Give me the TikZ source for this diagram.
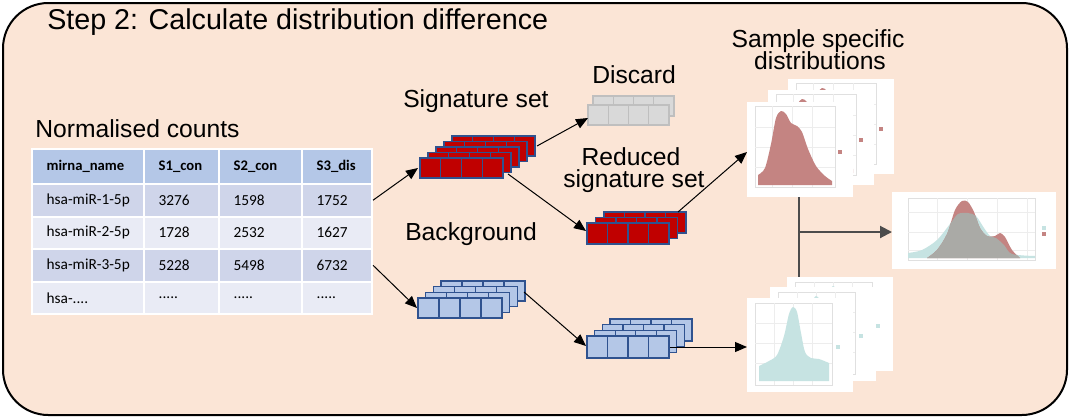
\documentclass[tikz,border=0pt]{standalone}
\usepackage{fontspec}
\setmainfont{Liberation Sans}
\newfontfamily\carlito{Carlito}
\usetikzlibrary{arrows.meta}
\definecolor{framefill}{RGB}{251, 229, 214}
\definecolor{headblue}{RGB}{180, 199, 231}
\definecolor{rowdark}{RGB}{207, 213, 234}
\definecolor{rowlight}{RGB}{233, 235, 245}
\definecolor{sigred}{RGB}{192, 0, 0}
\definecolor{cellblue}{RGB}{47, 82, 143}
\definecolor{bgblue}{RGB}{180, 199, 231}
\definecolor{discgray}{RGB}{217, 217, 217}
\definecolor{discedge}{RGB}{191, 191, 191}
\definecolor{densred}{RGB}{196, 132, 130}
\definecolor{densteal}{RGB}{198, 227, 226}
\definecolor{densmix}{RGB}{170, 170, 166}

\begin{document}
\begin{tikzpicture}[x=0.75pt, y=-0.75pt, every node/.style={inner sep=0pt},
    steplabel/.style={font=\fontsize{18.5}{20}\selectfont},
    upperline/.style={steplabel, text depth=0.5pt},
    lowerline/.style={steplabel, text height=10pt},
    tabcell/.style={draw=white, line width=1.5pt, anchor=north west, inner xsep=11pt,
      align=left, minimum height=24.375pt,
      execute at begin node={\exhyphenpenalty=10000\relax},
      font=\carlito\fontsize{11.5}{13}\selectfont},
    headcell/.style={tabcell, fill=headblue, minimum height=26.25pt,
      font=\carlito\bfseries\fontsize{11}{13}\selectfont},
    c1/.style={minimum width=84pt, text width=62pt},
    c2/.style={minimum width=56.25pt, text width=34.25pt},
    c3/.style={minimum width=62.25pt, text width=40.25pt},
    c4/.style={minimum width=52.5pt, text width=30.5pt},
    flow/.style={-{Triangle[length=9pt, width=7.5pt]}, line width=0.75pt},
    merge/.style={draw=black!70, line width=1.5pt},
    sigcell/.style={fill=sigred, draw=cellblue, line width=1pt},
    bgcell/.style={fill=bgblue, draw=cellblue, line width=1pt},
    disccell/.style={fill=discgray, draw=discedge, line width=1pt},
    panelbox/.style={draw=black!12, line width=0.4pt},
    gridline/.style={draw=black!7, line width=0.3pt}]
  \useasboundingbox (0,0) rectangle (1070,418);

  % frame and headings
  \filldraw[fill=framefill, draw=black, line width=1.5pt, rounded corners=34pt]
    (3,3) rectangle (1067,415);
  \node[anchor=base west, font=\fontsize{21.5}{24}\selectfont] (title) at (47,29)
    {Step 2: Calculate distribution difference};
  \node[steplabel, anchor=base west] (countslbl) at (35,137) {Normalised counts};
  \node[steplabel, anchor=base west] (siglbl) at (403,107) {Signature set};
  \node[steplabel, anchor=base west] (disclbl) at (592,83) {Discard};
  \node[upperline, anchor=base] (redlbl1) at (631,165) {Reduced};
  \node[lowerline, anchor=base] (redlbl2) at (634,187) {signature set};
  \node[steplabel, anchor=base west] (bglbl) at (405,240) {Background};
  \node[upperline, anchor=base] (samplbl1) at (818,47) {Sample specific};
  \node[lowerline, anchor=base] (samplbl2) at (820,69) {distributions};

  % table of counts
  \node[headcell, c1] (h1) at (31,148) {mirna\_name};
  \node[headcell, c2] (h2) at (143,148) {S1\_con};
  \node[headcell, c3] (h3) at (218,148) {S2\_con};
  \node[headcell, c4] (h4) at (301,148) {S3\_dis};
  \node[tabcell, c1, fill=rowdark] (r1c1) at (31,183) {hsa-miR-1-5p};
  \node[tabcell, c2, fill=rowdark] (r1c2) at (143,183) {3276};
  \node[tabcell, c3, fill=rowdark] (r1c3) at (218,183) {1598};
  \node[tabcell, c4, fill=rowdark] (r1c4) at (301,183) {1752};
  \node[tabcell, c1, fill=rowlight] (r2c1) at (31,215.5) {hsa-miR-2-5p};
  \node[tabcell, c2, fill=rowlight] (r2c2) at (143,215.5) {1728};
  \node[tabcell, c3, fill=rowlight] (r2c3) at (218,215.5) {2532};
  \node[tabcell, c4, fill=rowlight] (r2c4) at (301,215.5) {1627};
  \node[tabcell, c1, fill=rowdark] (r3c1) at (31,248) {hsa-miR-3-5p};
  \node[tabcell, c2, fill=rowdark] (r3c2) at (143,248) {5228};
  \node[tabcell, c3, fill=rowdark] (r3c3) at (218,248) {5498};
  \node[tabcell, c4, fill=rowdark] (r3c4) at (301,248) {6732};
  \node[tabcell, c1, fill=rowlight] (r4c1) at (31,280.5) {hsa-....};
  \node[tabcell, c2, fill=rowlight] (r4c2) at (143,280.5) {.....};
  \node[tabcell, c3, fill=rowlight] (r4c3) at (218,280.5) {.....};
  \node[tabcell, c4, fill=rowlight] (r4c4) at (301,280.5) {.....};

  % signature set stack
  \begin{scope}[shift={(420,158)}]
    \foreach \k in {4,3,2,1,0}
      \foreach \i in {0,1,2,3}
        \filldraw[sigcell] (\k*8+\i*20.75,-\k*5.5) rectangle +(20.75,20);
  \end{scope}
  % discard stack
  \begin{scope}[shift={(588,105)}]
    \foreach \k in {1,0}
      \foreach \i in {0,1,2,3}
        \filldraw[disccell] (\k*5+\i*20.25,-\k*9) rectangle +(20.25,20);
  \end{scope}
  % reduced signature set stack
  \begin{scope}[shift={(587,223)}]
    \foreach \k in {2,1,0}
      \foreach \i in {0,1,2,3}
        \filldraw[sigcell] (\k*8.5+\i*20.5,-\k*5.5) rectangle +(20.5,21);
  \end{scope}
  % background stack
  \begin{scope}[shift={(418,298)}]
    \foreach \k in {3,2,1,0}
      \foreach \i in {0,1,2,3}
        \filldraw[bgcell] (\k*7.7+\i*21,-\k*5.7) rectangle +(21,20);
  \end{scope}
  % reduced background stack
  \begin{scope}[shift={(587,336)}]
    \foreach \k in {3,2,1,0}
      \foreach \i in {0,1,2,3}
        \filldraw[bgcell] (\k*7.7+\i*20.5,-\k*5.7) rectangle +(20.5,22);
  \end{scope}

  % signature distributions
  \foreach \px/\py in {788/79, 768/90, 747/102} {
    \begin{scope}[shift={(\px,\py)}]
      \fill[white] (0,0) rectangle (106,95);
      \draw[panelbox] (8,4) rectangle (88,85);
      \foreach \g in {25,45,65} \draw[gridline] (\g,4) -- (\g,85);
      \foreach \g in {25,45,65} \draw[gridline] (8,\g) -- (88,\g);
      \fill[densred] (11,83) -- plot[smooth] coordinates {(11,73) (18,66) (24,42)
        (29,16) (34,9) (39,12) (44,21) (50,24) (55,30) (61,47) (69,64) (78,74)
        (85,79)} -- (85,83) -- cycle;
      \fill[densred] (91,48) rectangle +(4,4);
    \end{scope}
  }
  % background distributions
  \foreach \px/\py in {787/277, 770/287, 747/298} {
    \begin{scope}[shift={(\px,\py)}]
      \fill[white] (0,0) rectangle (106,94);
      \draw[panelbox] (8,5) rectangle (85,87);
      \foreach \g in {27,46,65} \draw[gridline] (\g,5) -- (\g,87);
      \foreach \g in {25,45,65} \draw[gridline] (8,\g) -- (85,\g);
      \fill[densteal] (12,83) -- plot[smooth] coordinates {(12,68) (22,63) (30,57)
        (37,38) (42,16) (46,9) (50,14) (54,35) (58,54) (64,60) (72,61)
        (82,65)} -- (82,83) -- cycle;
      \fill[densteal] (89,47) rectangle +(4,4);
    \end{scope}
  }
  % combined distribution
  \begin{scope}[shift={(892,192)}]
    \def\tealcurve{(16,66) -- plot[smooth] coordinates {(16,61) (30,58) (45,48)
      (58,32) (66,22) (76,21) (84,24) (92,36) (98,44) (104,46) (112,53) (120,62)
      (143,64)} -- (143,66) -- cycle}
    \def\redcurve{(35,66) -- plot[smooth] coordinates {(35,66) (45,58) (55,42)
      (63,18) (70,9) (76,10) (82,20) (88,36) (95,44) (103,44) (108,41) (113,45)
      (120,58) (128,66)} -- cycle}
    \fill[white] (0,0) rectangle (164,77);
    \draw[panelbox] (16,6) rectangle (143,68);
    \foreach \g in {45,75,105,135} \draw[gridline] (\g,6) -- (\g,68);
    \foreach \g in {20,40,58} \draw[gridline] (16,\g) -- (143,\g);
    \fill[densteal] \tealcurve;
    \fill[densred] \redcurve;
    \begin{scope}
      \clip \tealcurve;
      \fill[densmix] \redcurve;
    \end{scope}
    \fill[densteal] (150,34) rectangle +(4,4);
    \fill[densred] (150,40) rectangle +(4,4);
  \end{scope}

  % connector points
  \coordinate (sigin) at (418,168);
  \coordinate (sigtop) at (537,146);
  \coordinate (sigbot) at (508,174);
  \coordinate (discin) at (588,118);
  \coordinate (redin) at (586,231);
  \coordinate (redout) at (678,212);
  \coordinate (bgin) at (417,308);
  \coordinate (bgout) at (524,292);
  \coordinate (rbgin) at (586,346);
  \coordinate (rbgout) at (670,347);
  \coordinate (sigdist) at (747,152);
  \coordinate (bgdist) at (747,347);
  \coordinate (topend) at (799,197);
  \coordinate (botend) at (799,277);
  \coordinate (join) at (799,232);
  \coordinate (combin) at (892,232);

  % arrows
  \draw[flow] (r1c4.east) -- (sigin);
  \draw[flow] (r3c4.east) -- (bgin);
  \draw[flow] (sigtop) -- (discin);
  \draw[flow] (sigbot) -- (redin);
  \draw[flow] (redout) -- (sigdist);
  \draw[flow] (bgout) -- (rbgin);
  \draw[flow] (rbgout) -- (bgdist);
  \draw[merge] (topend) -- (botend);
  \draw[merge, -{Triangle[length=9pt, width=9pt]}] (join) -- (combin);
\end{tikzpicture}
\end{document}
